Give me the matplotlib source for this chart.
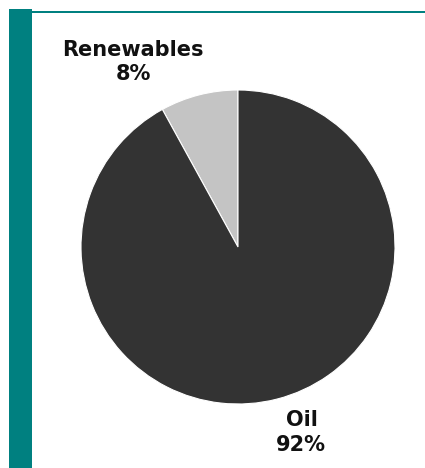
import matplotlib
matplotlib.use("Agg")
import matplotlib.pyplot as plt
from matplotlib.patches import Rectangle

categories = ["Renewables", "Oil"]
shares = [8, 92]
colors = ["#c4c4c4", "#333333"]

W, H = 425, 468
fig = plt.figure(figsize=(W / 100, H / 100), dpi=100)
ax = fig.add_axes([0, 0, 1, 1])

teal = "#008080"
ax.add_patch(Rectangle((9, 0), 23, H - 9, color=teal, lw=0))
ax.add_patch(Rectangle((32, H - 13), W - 32, 2, color=teal, lw=0))

cx, cy, r = 238, H - 247, 157
ax.pie(shares, colors=colors, startangle=90, counterclock=True,
       center=(cx, cy), radius=r, frame=True,
       wedgeprops=dict(edgecolor="white", linewidth=0.8))
ax.set_xlim(0, W)
ax.set_ylim(0, H)
ax.set_aspect("equal")
ax.axis("off")

font = dict(family="DejaVu Sans", fontweight="bold", fontsize=15, color="#111111",
            ha="center", va="center")
ax.text(133, H - 50, categories[0], **font)
ax.text(133, H - 74, f"{shares[0]}%", **font)
ax.text(302, H - 420, categories[1], **font)
ax.text(301, H - 445, f"{shares[1]}%", **font)

fig.savefig("out.png", dpi=100)
